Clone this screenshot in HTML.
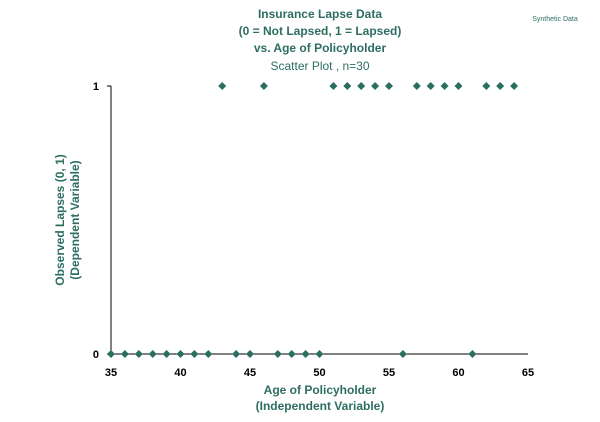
<!DOCTYPE html>
<html><head><meta charset="utf-8"><style>
body{margin:0;background:#fff;font-family:"Liberation Sans",sans-serif}
svg text{font-family:"Liberation Sans",sans-serif}
</style></head><body>
<svg width="600" height="417" viewBox="0 0 600 417">
<g fill="#2e6e62" font-weight="bold" font-size="12" text-anchor="middle">
<text x="320" y="18">Insurance Lapse Data</text>
<text x="320" y="35">(0 = Not Lapsed, 1 = Lapsed)</text>
<text x="320" y="52">vs. Age of Policyholder</text>
<text x="320" y="70" font-weight="normal">Scatter Plot , n=30</text>
</g>
<text x="555" y="21" font-size="7" fill="#2e6e62" text-anchor="middle">Synthetic Data</text>
<g id="axes" stroke="#000" stroke-width="1"></g>
<g id="ticks" font-size="11" font-weight="bold" fill="#000"></g>
<g id="pts" fill="#2a6e60"></g>
<text transform="translate(64,220) rotate(-90)" font-size="12" font-weight="bold" fill="#2e6e62" text-anchor="middle"><tspan x="0" dy="0">Observed Lapses (0, 1)</tspan><tspan x="0" dy="15">(Dependent Variable)</tspan></text>
<text x="320" y="394" font-size="12" font-weight="bold" fill="#2e6e62" text-anchor="middle"><tspan x="320">Age of Policyholder</tspan><tspan x="320" dy="16">(Independent Variable)</tspan></text>
</svg>
<script>
const ages=[43,46,51,52,53,54,55,57,58,59,60,62,63,64,35,36,37,38,39,40,41,42,44,45,47,48,49,50,56,61];
const lapsed=[1,1,1,1,1,1,1,1,1,1,1,1,1,1,0,0,0,0,0,0,0,0,0,0,0,0,0,0,0,0];
const xTicks=[35,40,45,50,55,60,65];
const yTicks=[0,1];
const NS='http://www.w3.org/2000/svg';
const X=v=>111+(v-35)*(417/30);
const Y=v=>354-v*268;
function mk(t,a,p){const e=document.createElementNS(NS,t);for(const k in a)e.setAttribute(k,a[k]);p.appendChild(e);return e;}
const ax=document.getElementById('axes'),tk=document.getElementById('ticks'),pts=document.getElementById('pts');
let l=mk('line',{x1:X(35),y1:Y(0),x2:X(65),y2:Y(0)},ax);


l=mk('line',{x1:X(35),y1:Y(0),x2:X(35),y2:Y(1)},ax);


yTicks.forEach(v=>{
 mk('line',{x1:X(35)-4,y1:Y(v),x2:X(35),y2:Y(v)},ax);
 const t=mk('text',{x:X(35)-12,y:Y(v)+4,'text-anchor':'end'},tk);t.textContent=v;
 
 
});
xTicks.forEach(v=>{
 const t=mk('text',{x:X(v),y:376,'text-anchor':'middle'},tk);t.textContent=v;
 
 
});
ages.forEach((a,i)=>{
 const x=X(a),y=Y(lapsed[i]);
 const p=mk('polygon',{points:`${x},${y-4} ${x+4},${y} ${x},${y+4} ${x-4},${y}`},pts);
 
 
});
</script>
</body></html>
